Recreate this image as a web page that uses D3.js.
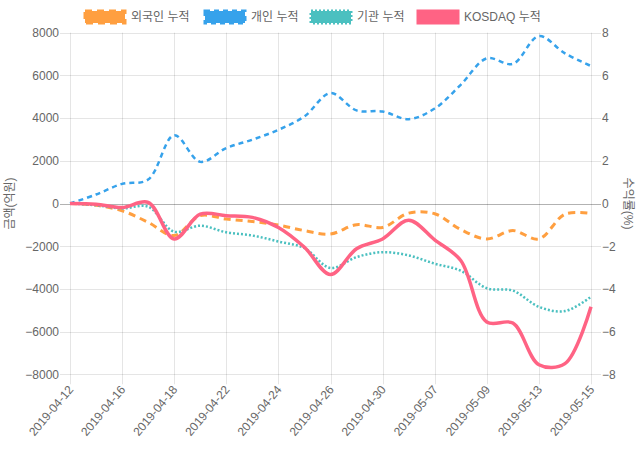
<!DOCTYPE html>
<html><head><meta charset="utf-8">
<script src="https://cdn.jsdelivr.net/npm/d3@7/dist/d3.min.js"></script>
<style>
html,body{margin:0;padding:0;background:#fff;}
text{font-family:"Liberation Sans","Helvetica Neue",Helvetica,Arial,"Noto Sans CJK KR",sans-serif;}
</style></head>
<body>
<svg id="chart" width="640" height="450"></svg>
<script>
const dates = ['2019-04-12','2019-04-15','2019-04-16','2019-04-17','2019-04-18','2019-04-19','2019-04-22','2019-04-23','2019-04-24','2019-04-25','2019-04-26','2019-04-29','2019-04-30','2019-05-02','2019-05-07','2019-05-08','2019-05-09','2019-05-10','2019-05-13','2019-05-14','2019-05-15'];
const foreignCum = [0,-80,-340,-880,-1500,-570,-730,-840,-1010,-1270,-1430,-990,-1120,-450,-480,-1220,-1660,-1270,-1660,-500,-470];
const individualCum = [0,420,920,1120,3200,1950,2600,2990,3450,4080,5170,4360,4310,3950,4450,5560,6800,6540,7840,7030,6440];
const institutionCum = [0,-80,-230,-150,-1320,-1040,-1350,-1500,-1780,-2090,-3020,-2510,-2280,-2430,-2820,-3150,-3970,-4080,-4840,-5040,-4370];
const kosdaqCum = [0,-0.03,-0.19,0.05,-1.66,-0.5,-0.57,-0.65,-1.12,-2.05,-3.33,-2.12,-1.66,-0.78,-1.7,-2.67,-5.55,-5.6,-7.55,-7.5,-4.84];
const leftTicks = [8000,6000,4000,2000,0,-2000,-4000,-6000,-8000];
const rightTicks = [8,6,4,2,0,-2,-4,-6,-8];
const seriesNames = ['외국인 누적','개인 누적','기관 누적','KOSDAQ 누적'];
const leftTitle = '금액(억원)';
const rightTitle = '수익률(%)';

const svg = d3.select('#chart');
const L = 70, R = 591, T = 32.7, B = 374.3;
const x = d3.scalePoint().domain(dates).range([L, R]);
const yL = d3.scaleLinear().domain([-8000, 8000]).range([B, T]);
const yR = d3.scaleLinear().domain([-8, 8]).range([B, T]);
const grid = 'rgba(0,0,0,0.1)';
const txt = '#666';

const g = svg.append('g');
leftTicks.forEach(v => {
  const yy = Math.round(yL(v)) + 0.5;
  g.append('line').attr('x1', L - 10).attr('x2', R + 10).attr('y1', yy).attr('y2', yy)
    .attr('stroke', v === 0 ? 'rgba(0,0,0,0.3)' : grid).attr('stroke-width', 1);
});
const shown = dates.filter((d, i) => i % 2 === 0);
shown.forEach(d => {
  const xx = Math.round(x(d)) + 0.5;
  g.append('line').attr('x1', xx).attr('x2', xx).attr('y1', T).attr('y2', B + 10)
    .attr('stroke', grid).attr('stroke-width', 1);
});

const yAxisL = d3.axisLeft(yL).tickValues(leftTicks).tickFormat(d3.format('d')).tickSize(0).tickPadding(0);
const gl = svg.append('g').attr('transform', `translate(${L - 10},0)`).call(yAxisL);
gl.select('.domain').remove();
gl.selectAll('text').attr('fill', txt).style('font-size', '12px').attr('dx', '-1');

const yAxisR = d3.axisRight(yR).tickValues(rightTicks).tickFormat(d3.format('d')).tickSize(0).tickPadding(0);
const gr = svg.append('g').attr('transform', `translate(${R + 10},0)`).call(yAxisR);
gr.select('.domain').remove();
gr.selectAll('text').attr('fill', txt).style('font-size', '12px').attr('dx', '1');

const xAxis = d3.axisBottom(x).tickValues(shown).tickSize(0).tickPadding(0);
const gx = svg.append('g').attr('transform', `translate(0,${B + 10})`).call(xAxis);
gx.select('.domain').remove();
gx.selectAll('text').attr('fill', txt).style('font-size', '12px')
  .attr('text-anchor', 'end').attr('dy', '0.35em').attr('y', 2)
  .attr('transform', 'rotate(-50) translate(-2,0)');

svg.append('text').attr('transform', `translate(14,${(T + B) / 2}) rotate(-90)`)
  .attr('text-anchor', 'middle').attr('fill', txt).style('font-size', '12px').text(leftTitle);
svg.append('text').attr('transform', `translate(624,${(T + B) / 2}) rotate(90)`)
  .attr('text-anchor', 'middle').attr('fill', txt).style('font-size', '12px').text(rightTitle);

const styles = [
  {color: 'rgb(255,159,64)', width: 3, dash: '7,5'},
  {color: 'rgb(54,162,235)', width: 2.5, dash: '5,4'},
  {color: 'rgb(75,192,192)', width: 2.5, dash: '2,2'},
  {color: 'rgb(255,99,132)', width: 3.5, dash: null}
];
const curve = d3.curveCatmullRom.alpha(0.5);
const lineL = d3.line().x((d, i) => x(dates[i])).y(d => yL(d)).curve(curve);
const lineR = d3.line().x((d, i) => x(dates[i])).y(d => yR(d)).curve(curve);
const datasets = [
  {data: foreignCum, line: lineL},
  {data: individualCum, line: lineL},
  {data: institutionCum, line: lineL},
  {data: kosdaqCum, line: lineR}
];
datasets.forEach((ds, k) => {
  const p = svg.append('path').attr('d', ds.line(ds.data)).attr('fill', 'none')
    .attr('stroke', styles[k].color).attr('stroke-width', styles[k].width)
    .attr('stroke-linejoin', 'round');
  if (styles[k].dash) p.attr('stroke-dasharray', styles[k].dash);
});

const legendX = [85, 205, 311, 418];
seriesNames.forEach((name, k) => {
  const lg = svg.append('g').attr('transform', `translate(${legendX[k]},11)`);
  const r = lg.append('rect').attr('width', 40).attr('height', 12)
    .attr('fill', styles[k].color).attr('stroke', styles[k].color).attr('stroke-width', 3);
  if (styles[k].dash) r.attr('stroke-dasharray', styles[k].dash);
  lg.append('text').attr('x', 46).attr('y', 6).attr('dy', '0.35em').attr('fill', txt)
    .style('font-size', '12px').text(name);
});
</script>
</body></html>
